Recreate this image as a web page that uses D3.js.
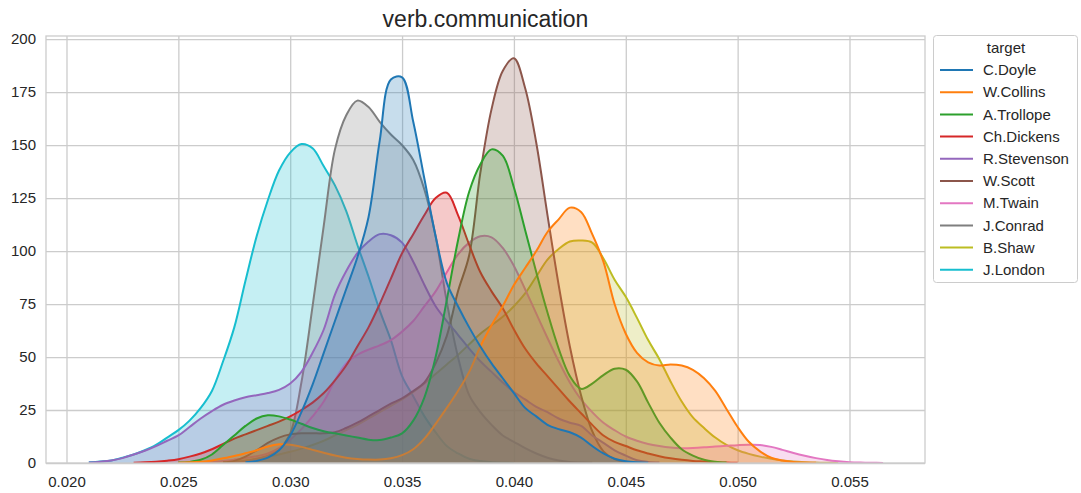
<!DOCTYPE html>
<html><head><meta charset="utf-8">
<script src="https://cdn.jsdelivr.net/npm/d3@7"></script>
<style>
body{margin:0;background:#fff;}
text{font-family:"Liberation Sans",Arial,sans-serif;}
</style>
</head><body>
<svg id="chart" width="1081" height="493"></svg>
<script>
const N = null;
const chartTitle = "verb.communication";
const legendTitle = "target";
const authors = ["C.Doyle","W.Collins","A.Trollope","Ch.Dickens","R.Stevenson","W.Scott","M.Twain","J.Conrad","B.Shaw","J.London"];
const palette = ["#1f77b4","#ff7f0e","#2ca02c","#d62728","#9467bd","#8c564b","#e377c2","#7f7f7f","#bcbd22","#17becf"];
const xTicks = [0.020,0.025,0.030,0.035,0.040,0.045,0.050,0.055];
const yTicks = [0,25,50,75,100,125,150,175,200];

// shared x grid (share of verb.communication)
const xGrid = [
 0.0205,0.0210,0.0215,0.0220,0.0225,0.0230,0.0235,0.0240,0.0245,0.0250,
 0.0255,0.0260,0.0265,0.0270,0.0275,0.0280,0.0285,0.0290,0.0295,0.0300,
 0.0305,0.0310,0.0315,0.0320,0.0325,0.0330,0.0335,0.0340,0.0345,0.0350,
 0.0355,0.0360,0.0365,0.0370,0.0375,0.0380,0.0385,0.0390,0.0395,0.0400,
 0.0405,0.0410,0.0415,0.0420,0.0425,0.0430,0.0435,0.0440,0.0445,0.0450,
 0.0455,0.0460,0.0465,0.0470,0.0475,0.0480,0.0485,0.0490,0.0495,0.0500,
 0.0505,0.0510,0.0515,0.0520,0.0525,0.0530,0.0535,0.0540,0.0545,0.0550,
 0.0555,0.0560,0.0565,0.0570];

// density values per author on xGrid (null = outside curve)
const densDoyle = [
 N,N,N,N,N,N,N,N,N,N,
 N,N,N,N,N,0.3,1,2.5,6,13,
 24,37,52,67,82,97,116,152,181,182,
 161,134,107,85,74,64,55,47,40,33,
 26,22,18,16,14.5,12,8,4.5,2,0.8,
 0.3,0.1,N,N,N,N,N,N,N,N,
 N,N,N,N,N,N,N,N,N,N,
 N,N,N,N];
const densCollins = [
 N,N,N,N,N,N,N,N,N,0.1,
 0.3,0.6,1.2,2.2,3.3,4.6,6,7.8,8.8,8.6,
 7.6,6.2,4.8,3.5,2.5,1.9,1.6,1.6,2.2,3.7,
 6.5,11.5,18.5,26,34,43,55,65,74,84,
 92,100,109,115,120.5,118.5,108,95,75,61,
 52,47.5,46,46.5,46,44,40,34,25.5,17,
 10,5.5,2.5,1.2,0.5,0.2,0.1,N,N,N,
 N,N,N,N];
const densTrollope = [
 N,N,N,N,N,N,N,N,N,0.2,
 0.5,1.5,4,8.5,13,17.5,21,22.5,22,20.5,
 18.5,16.5,15,14,13,12,11,10.8,12,14,
 20,31,50,77,105,128,141,148,145,130,
 110,90,71,54,41,35,37.5,41.5,44.5,44,
 38.5,28.5,19,12,6.5,3.5,1.5,0.6,0.2,N,
 N,N,N,N,N,N,N,N,N,N,
 N,N,N,N];
const densDickens = [
 N,N,N,N,N,0.1,0.3,0.6,1.1,1.8,
 3,4.5,6.5,9,11.5,13.5,15.5,17.5,19.5,22,
 25,28.5,33,39,46,55,64,75,87,99,
 108,117,125,127.5,117,103,90,81,73,63,
 54,47,41,35,29,23.5,18,13,10,8,
 6,4.5,3.2,2.2,1.5,1,0.7,0.4,0.2,0.1,
 N,N,N,N,N,N,N,N,N,N,
 N,N,N,N];
const densStevenson = [
 N,0.2,0.6,1.2,2.3,4,5.8,8,10.5,13,
 17,21,24.5,27.5,29.5,31,32,33,34.5,37.5,
 43,52,63,79.5,90.5,99,104.5,108,107.5,104,
 95,84,74,67,60.5,54,48,43,38,33.5,
 30,26.5,24,21,19,17.5,13,9.5,6,3.5,
 1.3,0.5,0.2,N,N,N,N,N,N,N,
 N,N,N,N,N,N,N,N,N,N,
 N,N,N,N];
const densScott = [
 N,N,N,N,N,N,N,N,N,N,
 N,N,N,0.3,1,3,6,9.5,12,13.5,
 14,14,14,14.5,16.5,19,22,25,28,30.5,
 34,38,47,60,81,98,137,167,185,191,
 177,151,117,84,55,32,15,5.5,1.8,0.5,
 0.1,N,N,N,N,N,N,N,N,N,
 N,N,N,N,N,N,N,N,N,N,
 N,N,N,N];
const densTwain = [
 N,N,N,N,N,N,N,N,N,N,
 0.1,0.3,0.6,1,1.6,2.3,3.2,4.5,7,11,
 16,22,29,39,47,51,53.5,55.5,58,62,
 67,74,81,90,98.5,104,107,106.5,101.5,93,
 82,70.5,59,48,38,30,24,19,15.5,12.5,
 10.5,9,8,7.3,7,7.1,7.4,7.8,8.1,8.4,
 8.6,8.5,7.6,6.2,4.7,3.4,2.3,1.4,0.8,0.4,
 0.2,0.1,0.05,N];
const densConrad = [
 N,N,N,N,N,N,N,N,N,N,
 N,N,N,0.1,0.4,1,2,3.5,6.5,14,
 38,74,112,148,164,171,168,161,155,150,
 143,129,107,76,50,32,24,18,13,10,
 7,4.5,2.5,1.2,0.5,0.2,0.1,N,N,N,
 N,N,N,N,N,N,N,N,N,N,
 N,N,N,N,N,N,N,N,N,N,
 N,N,N,N];
const densShaw = [
 N,N,N,N,N,N,N,N,N,N,
 N,0.1,0.2,0.4,0.8,1.3,2,3,4,5.3,
 6.8,8.5,10.5,13,15.5,18,21,24,27,30,
 33.5,37.5,42,46.5,51,56,61,65,69,74,
 80,88,96,101,104.5,105,104,96.5,86.5,78.4,
 68.5,58,49,38.5,29,21.5,16.5,12,8.5,6,
 4.3,3,2,1.2,0.7,0.4,0.2,0.1,0.05,N,
 N,N,N,N];
const densLondon = [
 N,0.3,0.7,1.2,2.5,4,6,8.5,12,15.5,
 20,26,34,48,64,86,107,124,138,146.5,
 150.5,148.5,140,131,119,103,88,72,58,41,
 31.5,22,14.5,8,4.5,2,0.9,0.4,0.15,0.05,
 N,N,N,N,N,N,N,N,N,N,
 N,N,N,N,N,N,N,N,N,N,
 N,N,N,N,N,N,N,N,N,N,
 N,N,N,N];

const densities = [densDoyle,densCollins,densTrollope,densDickens,densStevenson,densScott,densTwain,densConrad,densShaw,densLondon];

// ---- layout ----
const plot = {left:46, right:925, top:36, bottom:463};
const svg = d3.select("#chart");
const x = d3.scaleLinear().domain([0.019084, 0.058375]).range([plot.left, plot.right]);
const y = d3.scaleLinear().domain([0, 201.5]).range([plot.bottom, plot.top]);
const textColor = "#262626";
const gridColor = "#cccccc";

// grid + axes
const yAxis = d3.axisLeft(y).tickValues(yTicks).tickFormat(d3.format("d"))
  .tickSizeInner(-(plot.right-plot.left)).tickSizeOuter(0).tickPadding(10);
const gy = svg.append("g").attr("transform",`translate(${plot.left},0)`).call(yAxis);
const xAxis = d3.axisBottom(x).tickValues(xTicks).tickFormat(d3.format(".3f"))
  .tickSizeInner(-(plot.bottom-plot.top)).tickSizeOuter(0).tickPadding(13);
const gx = svg.append("g").attr("transform",`translate(0,${plot.bottom})`).call(xAxis);
[gx,gy].forEach(g=>{
  g.select(".domain").remove();
  g.selectAll(".tick line").attr("stroke",gridColor).attr("stroke-width",1.3);
  g.selectAll(".tick text").attr("fill",textColor).style("font-size","15px")
    .style("font-family","'Liberation Sans',Arial,sans-serif");
});

svg.append("clipPath").attr("id","clip").append("rect")
  .attr("x",plot.left).attr("y",plot.top).attr("width",plot.right-plot.left).attr("height",plot.bottom-plot.top);

const curve = d3.curveCatmullRom.alpha(0.5);
const area = d3.area().defined(d=>d[1]!==null)
  .x(d=>x(d[0])).y0(y(0)).y1(d=>y(Math.max(0,d[1]))).curve(curve);
const line = d3.line().defined(d=>d[1]!==null)
  .x(d=>x(d[0])).y(d=>y(d[1])).curve(curve);

const gCurves = svg.append("g").attr("clip-path","url(#clip)");
// seaborn draws hue levels in reverse order, first level on top
for (let i = authors.length-1; i >= 0; i--) {
  const pts = xGrid.map((xv,j)=>[xv, densities[i][j]]);
  const g = gCurves.append("g");
  g.append("path").datum(pts).attr("d",area).attr("fill",palette[i]).attr("fill-opacity",0.25).attr("stroke","none");
  g.append("path").datum(pts).attr("d",line).attr("fill","none").attr("stroke",palette[i])
    .attr("stroke-width",2).attr("stroke-linejoin","round");
}

// frame
svg.append("rect").attr("x",plot.left).attr("y",plot.top)
  .attr("width",plot.right-plot.left).attr("height",plot.bottom-plot.top)
  .attr("fill","none").attr("stroke",gridColor).attr("stroke-width",1.3);

// title
svg.append("text").attr("x",(plot.left+plot.right)/2).attr("y",27)
  .attr("text-anchor","middle").attr("fill",textColor).style("font-size","23px").text(chartTitle);

// legend
const lg = svg.append("g");
lg.append("rect").attr("x",933.5).attr("y",35.5).attr("width",144).attr("height",247).attr("rx",3)
  .attr("fill","#fff").attr("fill-opacity",0.8).attr("stroke",gridColor).attr("stroke-width",1);
lg.append("text").attr("x",1006).attr("y",53).attr("text-anchor","middle").attr("fill",textColor)
  .style("font-size","15px").text(legendTitle);
authors.forEach((a,i)=>{
  const yy = 70 + i*22.2;
  lg.append("line").attr("x1",940).attr("x2",973).attr("y1",yy).attr("y2",yy)
    .attr("stroke",palette[i]).attr("stroke-width",2);
  lg.append("text").attr("x",983).attr("y",yy).attr("dy","0.35em").attr("fill",textColor)
    .style("font-size","15px").text(a);
});
</script>
</body></html>
